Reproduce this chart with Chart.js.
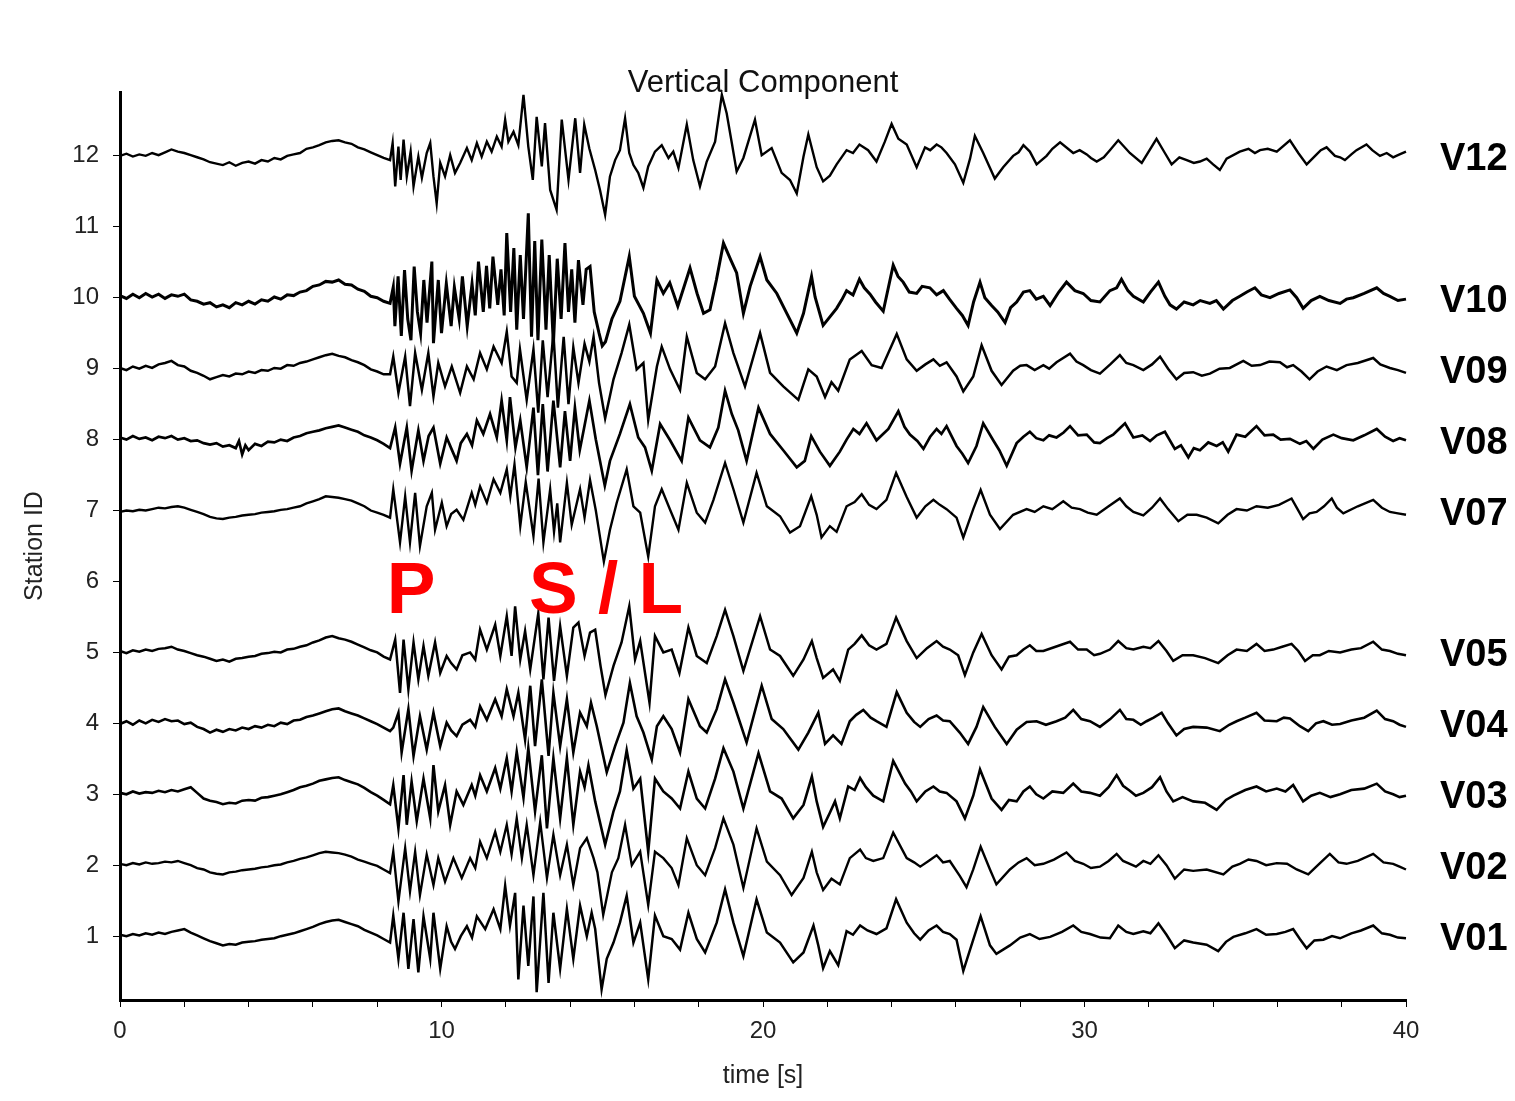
<!DOCTYPE html>
<html>
<head>
<meta charset="utf-8">
<title>Vertical Component</title>
<script src="https://cdn.jsdelivr.net/npm/chart.js@4/dist/chart.umd.min.js"></script>
<style>
  html, body { margin: 0; padding: 0; background: #fff; }
  #wrap { position: relative; width: 1515px; height: 1101px; }
</style>
</head>
<body>
<div id="wrap"><canvas id="c" width="1515" height="1101"></canvas></div>
<script>
// Station rows (y position of each trace baseline) and their names
const STATIONS = [12, 10, 9, 8, 7, 5, 4, 3, 2, 1];
const STATION_NAMES = ['V12', 'V10', 'V09', 'V08', 'V07', 'V05', 'V04', 'V03', 'V02', 'V01'];
// Line weight per trace (the noisier stations read heavier)
const TRACE_WIDTHS = [2.4, 3.0, 2.5, 2.7, 2.4, 2.5, 2.6, 2.6, 2.4, 2.5];

// Axis ticks
const Y_TICKS = [1, 2, 3, 4, 5, 6, 7, 8, 9, 10, 11, 12];
const X_TICKS = [0, 2, 4, 6, 8, 10, 12, 14, 16, 18, 20, 22, 24, 26, 28, 30, 32, 34, 36, 38, 40];
const X_LABELED = [0, 10, 20, 30, 40];

// Phase annotations: arrival time of the label's left edge, drawn in the empty row 6
const PHASES = [
  { text: 'P', t: 8.3 },
  { text: 'S / L', t: 12.72 }
];
const PHASE_ROW = 5.55;

// Traces: flat [time s, amplitude] pairs; amplitude in hundredths of a station spacing
const V12 = [0,0, .2,3, .4,-1, .6,2, .8,0, 1,4, 1.2,1, 1.4,5, 1.6,9, 1.8,6, 2,4, 2.2,1, 2.4,-2, 2.6,-5, 2.8,-9, 3,-11, 3.2,-13, 3.4,-9, 3.6,-14, 3.8,-10, 4,-8, 4.2,-11, 4.4,-6, 4.6,-8, 4.8,-3, 5,-5, 5.2,0, 5.4,2, 5.6,4, 5.8,10, 6,12, 6.2,15, 6.4,19, 6.6,21, 6.8,22, 7,19, 7.2,17, 7.4,12, 7.6,9, 7.8,5, 8,1, 8.2,-3, 8.4,-6,
  8.48,18, 8.56,-43, 8.66,13, 8.73,-34, 8.82,23, 8.92,-29, 9.04,6, 9.13,-43, 9.28,-1, 9.39,-31, 9.54,4, 9.65,18, 9.75,-29, 9.85,-67, 9.96,-10, 10.11,-29, 10.27,1, 10.42,-24, 10.58,-10, 10.79,11, 10.94,-6, 11.1,18, 11.25,-1, 11.41,20, 11.56,6, 11.72,27, 11.87,13, 11.98,51, 12.08,20, 12.24,34, 12.39,15, 12.55,86, 12.7,13, 12.84,-34, 12.96,55, 13.12,-15, 13.22,46, 13.38,-48, 13.58,-76, 13.74,51, 13.95,-34, 14.16,53, 14.31,-24, 14.44,44, 14.6,10, 14.78,-20, 14.93,-48, 15.09,-83, 15.24,-29, 15.4,-6, 15.55,8, 15.71,53, 15.84,4, 15.97,-13, 16.12,-24, 16.28,-45, 16.43,-15, 16.64,6, 16.85,15, 17.06,-3, 17.21,6, 17.37,-17, 17.63,44, 17.83,-6, 18.04,-43, 18.25,-8, 18.51,20, 18.72,86, 18.87,60, 19.03,18, 19.18,-22, 19.39,-3, 19.75,51, 19.96,1, 20.27,11, 20.58,-24, 20.84,-34, 21.05,-53, 21.26,-1, 21.41,30,
  21.67,-16, 21.87,-36, 22.08,-28, 22.29,-12, 22.6,8, 22.8,4, 23,16, 23.27,8, 23.53,-8, 23.79,20, 24,45, 24.21,24, 24.47,16, 24.78,-16, 25.04,12, 25.2,8, 25.4,16, 25.55,12, 25.71,4, 25.97,-12, 26.23,-38, 26.44,-4, 26.59,28, 26.85,4, 27.21,-32, 27.47,-16, 27.78,0, 27.95,5, 28.1,15, 28.3,6, 28.51,-12, 28.82,0, 29,10, 29.24,19, 29.65,4, 29.85,8, 30.07,2, 30.2,-3, 30.38,-8, 30.6,-2, 30.79,8, 31.05,22, 31.41,4, 31.78,-10, 32.24,24, 32.5,4, 32.71,-12, 32.95,-2, 33.18,-6, 33.4,-10, 33.59,-8, 33.8,-4, 34,-12, 34.21,-20, 34.42,-4, 34.83,6, 35.1,10, 35.3,4, 35.46,8, 35.7,10, 35.98,6, 36.39,22, 36.65,4, 36.91,-12, 37.22,2, 37.35,8, 37.53,12, 37.79,0, 37.95,-2, 38.1,-6, 38.3,2, 38.46,8, 38.77,16, 38.95,8, 39.19,0, 39.4,4, 39.6,-2, 39.8,2, 40,6];

const V10 = [0,3, .2,-1, .4,5, .6,0, .8,6, 1,1, 1.2,5, 1.4,-1, 1.6,4, 1.8,2, 2,5, 2.2,-3, 2.4,-5, 2.6,-9, 2.8,-7, 3,-13, 3.2,-10, 3.4,-14, 3.6,-7, 3.8,-10, 4,-5, 4.2,-9, 4.4,-3, 4.6,-5, 4.8,1, 5,-2, 5.2,4, 5.4,3, 5.6,8, 5.8,10, 6,16, 6.2,18, 6.4,23, 6.6,22, 6.8,25, 7,19, 7.2,18, 7.4,12, 7.6,9, 7.8,2, 8,0, 8.2,-5, 8.4,-8,
  8.5,15, 8.55,-40, 8.65,30, 8.75,-54, 8.85,39, 8.95,-30, 9.05,-60, 9.15,44, 9.25,-20, 9.35,-50, 9.45,25, 9.55,-35, 9.7,51, 9.75,-64, 9.9,25, 10,-50, 10.15,20, 10.3,-40, 10.4,15, 10.55,-30, 10.65,30, 10.8,-40, 10.95,20, 11.05,-25, 11.15,51, 11.3,-20, 11.4,45, 11.5,-15, 11.6,58, 11.75,-10, 11.85,40, 11.95,-25, 12.03,91, 12.15,-20, 12.25,70, 12.34,-45, 12.45,60, 12.55,-30, 12.7,119, 12.8,-55, 12.9,80, 13,-60, 13.12,82, 13.25,-45, 13.35,60, 13.48,-66, 13.6,55, 13.72,-30, 13.84,77, 13.95,-20, 14.05,40, 14.15,-35, 14.26,53, 14.4,-10, 14.5,40, 14.62,44, 14.75,-20, 14.9,-50, 15,-68, 15.1,-62, 15.3,-30, 15.55,-5, 15.84,58, 16,2, 16.28,-22, 16.5,-50, 16.7,25, 16.9,6, 17.1,21, 17.35,-12, 17.73,42, 17.95,6, 18.15,-22, 18.35,-17, 18.55,25, 18.77,77, 19,53, 19.18,35, 19.39,-22, 19.6,16, 19.91,58, 20.12,25, 20.43,6, 20.74,-22, 21.05,-50, 21.26,-22, 21.51,30,
  21.62,1, 21.87,-39, 22.08,-27, 22.29,-15, 22.45,-3, 22.6,10, 22.8,4, 23,26, 23.15,14, 23.33,5, 23.5,-6, 23.74,-19, 24.05,46, 24.2,30, 24.36,22, 24.55,8, 24.78,6, 24.95,16, 25.19,14, 25.4,4, 25.61,10, 25.8,-2, 26.02,-15, 26.2,-25, 26.38,-39, 26.55,-6, 26.75,22, 26.9,0, 27.11,-11, 27.3,-20, 27.53,-35, 27.7,-14, 27.89,-6, 28.1,8, 28.3,10, 28.5,-2, 28.72,2, 28.93,-11, 29.2,8, 29.44,22, 29.7,10, 29.96,6, 30.2,-4, 30.48,-6, 30.79,10, 31,14, 31.15,26, 31.35,10, 31.52,2, 31.83,-6, 32.05,8, 32.3,22, 32.5,2, 32.66,-10, 32.86,-16, 33.1,-6, 33.38,-10, 33.6,-4, 33.9,-8, 34.1,-4, 34.32,-16, 34.6,-4, 34.83,2, 35.05,8, 35.3,14, 35.5,4, 35.77,0, 36.05,6, 36.39,11, 36.6,0, 36.8,-15, 37.05,-4, 37.32,2, 37.6,-4, 37.95,-8, 38.15,-2, 38.36,0, 38.7,6, 39.09,14, 39.3,6, 39.5,2, 39.75,-4, 40,-2];

const V09 = [0,1, .2,-2, .4,3, .6,0, .8,4, 1,1, 1.2,6, 1.4,8, 1.6,11, 1.8,5, 2,3, 2.2,-3, 2.4,-6, 2.6,-10, 2.8,-15, 3,-12, 3.2,-9, 3.4,-11, 3.6,-7, 3.8,-8, 4,-4, 4.2,-6, 4.4,-2, 4.6,-3, 4.8,1, 5,0, 5.2,5, 5.4,4, 5.6,8, 5.8,10, 6,13, 6.2,16, 6.4,19, 6.6,21, 6.8,18, 7,16, 7.2,12, 7.4,9, 7.6,5, 7.8,-1, 8,-4, 8.2,-8, 8.4,-8,
  8.5,17, 8.66,-34, 8.87,17, 9.02,-53, 9.18,22, 9.39,-30, 9.59,22, 9.75,-39, 9.9,8, 10.11,-25, 10.32,3, 10.58,-34, 10.79,3, 11,-15, 11.2,22, 11.41,-1, 11.62,31, 11.87,8, 12.03,52, 12.18,-11, 12.34,-20, 12.44,27, 12.65,-44, 12.86,27, 13.01,-62, 13.15,40, 13.3,-40, 13.48,50, 13.62,-55, 13.8,45, 13.95,-50, 14.1,30, 14.26,-20, 14.45,35, 14.6,10, 14.73,45, 14.9,-20, 15.09,-70, 15.35,-15, 15.6,22, 15.84,62, 16.07,-1, 16.28,8, 16.43,-72, 16.7,3, 16.85,31, 17.11,-1, 17.42,-30, 17.63,45, 17.94,-6, 18.2,-15, 18.51,3, 18.82,64, 19.08,22, 19.44,-25, 19.91,50, 20.22,-6, 20.63,-25, 21.1,-44, 21.41,-1,
  21.67,-11, 21.93,-40, 22.13,-19, 22.34,-31, 22.7,13, 23.07,25, 23.38,5, 23.69,1, 24.16,49, 24.47,13, 24.78,-3, 25.05,6, 25.3,13, 25.5,4, 25.71,9, 26.02,-11, 26.23,-32, 26.54,-11, 26.8,33, 27.11,-3, 27.42,-23, 27.78,-3, 28,4, 28.2,5, 28.45,-2, 28.72,5, 28.9,0, 29.13,9, 29.55,21, 29.75,10, 29.96,5, 30.2,-2, 30.48,-7, 30.8,6, 31.1,19, 31.3,8, 31.52,5, 31.83,-2, 32.1,6, 32.35,17, 32.6,0, 32.86,-15, 33.1,-6, 33.38,-5, 33.65,-10, 33.9,-7, 34.2,0, 34.52,1, 34.94,11, 35.2,4, 35.46,5, 35.75,10, 36.08,9, 36.3,2, 36.49,5, 36.75,-4, 37,-15, 37.25,-4, 37.53,3, 37.85,-2, 38.15,5, 38.5,8, 38.98,15, 39.2,6, 39.5,1, 39.75,-2, 40,-6];

const V08 = [0,3, .2,0, .4,5, .6,1, .8,3, 1,-1, 1.2,4, 1.4,2, 1.6,5, 1.8,0, 2,2, 2.2,-2, 2.4,-1, 2.6,-5, 2.8,-7, 3,-5, 3.2,-10, 3.4,-8, 3.6,-12, 3.7,-2, 3.8,-21, 3.9,-8, 4,-15, 4.2,-6, 4.4,-9, 4.6,-3, 4.8,-4, 5,0, 5.2,-2, 5.4,3, 5.6,5, 5.8,9, 6,11, 6.2,13, 6.4,16, 6.6,18, 6.8,20, 7,17, 7.2,14, 7.4,11, 7.6,6, 7.8,3, 8,-1, 8.2,-6, 8.4,-12,
  8.56,17, 8.71,-34, 8.92,17, 9.07,-44, 9.28,13, 9.44,-30, 9.6,5, 9.75,17, 9.96,-34, 10.16,3, 10.3,-12, 10.47,-30, 10.6,-5, 10.79,8, 10.95,-8, 11.1,27, 11.3,8, 11.51,36, 11.72,3, 11.87,55, 12.03,-1, 12.13,60, 12.3,-11, 12.45,27, 12.65,-39, 12.86,45, 13,-50, 13.15,50, 13.3,-45, 13.48,55, 13.69,-39, 13.84,40, 14,-30, 14.15,45, 14.3,-15, 14.45,20, 14.6,55, 14.8,0, 15.08,-65, 15.24,-30, 15.55,8, 15.86,50, 16.12,3, 16.33,-11, 16.54,-44, 16.8,22, 17.11,-1, 17.47,-30, 17.68,31, 18.04,-1, 18.35,-11, 18.61,17, 18.82,69, 19.03,36, 19.23,13, 19.49,-30, 19.86,45, 20.22,8, 20.63,-15, 21.05,-39, 21.3,-30, 21.5,5,
  21.77,-17, 22.08,-37, 22.39,-17, 22.6,0, 22.81,15, 23,8, 23.22,23, 23.53,-1, 23.9,15, 24.21,40, 24.4,18, 24.57,7, 24.8,-2, 24.99,-13, 25.2,4, 25.4,15, 25.55,8, 25.71,19, 26.02,-9, 26.2,-20, 26.38,-33, 26.64,-9, 26.85,23, 27.16,-1, 27.35,-15, 27.58,-37, 27.89,-5, 28.1,4, 28.3,11, 28.5,2, 28.72,-1, 28.9,6, 29.13,3, 29.35,10, 29.55,19, 29.8,6, 30.07,7, 30.3,-4, 30.48,-5, 30.7,2, 30.89,7, 31.05,14, 31.26,23, 31.52,3, 31.8,6, 32.04,-2, 32.25,6, 32.5,11, 32.81,-13, 33,-8, 33.23,-25, 33.4,-12, 33.59,-15, 33.85,-4, 34.11,-9, 34.3,-4, 34.47,-17, 34.73,7, 35,4, 35.35,19, 35.6,6, 35.87,7, 36.1,0, 36.39,1, 36.7,-6, 36.9,-2, 37.12,-13, 37.4,0, 37.74,7, 38,2, 38.36,-1, 38.7,6, 39.09,15, 39.35,4, 39.6,-2, 39.8,2, 40,-1];

const V07 = [0,-2, .2,0, .4,-1, .6,1, .8,0, 1,2, 1.2,4, 1.4,3, 1.6,5, 1.8,6, 2,4, 2.2,1, 2.4,-2, 2.6,-5, 2.8,-9, 3,-11, 3.2,-12, 3.4,-10, 3.6,-9, 3.8,-7, 4,-6, 4.2,-5, 4.4,-3, 4.6,-2, 4.8,-1, 5,1, 5.2,2, 5.4,4, 5.6,6, 5.8,10, 6,13, 6.2,16, 6.4,20, 6.6,19, 6.8,18, 7,16, 7.2,14, 7.4,10, 7.6,6, 7.8,0, 8,-3, 8.2,-6, 8.4,-10,
  8.5,30, 8.71,-45, 8.87,20, 9.02,-45, 9.18,25, 9.33,-50, 9.54,6, 9.7,25, 9.8,-27, 10.01,11, 10.16,-22, 10.3,-5, 10.47,1, 10.68,-13, 10.94,25, 11.05,8, 11.2,34, 11.41,11, 11.62,44, 11.83,25, 12.03,58, 12.14,20, 12.27,65, 12.45,-22, 12.62,40, 12.86,-36, 13.02,45, 13.17,-45, 13.38,30, 13.5,-30, 13.6,10, 13.69,-45, 13.9,39, 14.05,-20, 14.31,30, 14.45,-10, 14.62,43, 14.8,0, 15.05,-72, 15.24,-27, 15.45,11, 15.76,58, 15.97,6, 16.18,-3, 16.43,-65, 16.64,6, 16.85,30, 17.11,1, 17.37,-27, 17.63,39, 17.94,-3, 18.2,-17, 18.46,15, 18.82,67, 19.08,30, 19.39,-17, 19.8,53, 20.12,6, 20.53,-8, 20.84,-31, 21.15,-22, 21.5,20,
  21.67,-6, 21.82,-38, 22.08,-22, 22.29,-30, 22.6,6, 22.85,12, 23.07,23, 23.3,8, 23.53,2, 23.84,15, 24.14,53, 24.47,19, 24.78,-10, 25.05,6, 25.3,15, 25.5,8, 25.71,2, 26.02,-10, 26.23,-38, 26.54,2, 26.77,29, 27.06,-6, 27.37,-26, 27.78,-6, 28.2,2, 28.45,-2, 28.72,6, 29,2, 29.34,13, 29.6,4, 29.86,2, 30.1,-3, 30.38,-6, 30.75,6, 31.1,17, 31.3,6, 31.52,-2, 31.83,-7, 32.1,4, 32.35,17, 32.6,2, 32.92,-15, 33.2,-6, 33.49,-6, 33.8,-10, 34.16,-18, 34.45,-6, 34.73,2, 35.05,0, 35.35,6, 35.7,4, 36.05,8, 36.44,17, 36.6,4, 36.8,-12, 37,-4, 37.22,-2, 37.45,6, 37.69,17, 37.85,4, 38.05,-4, 38.5,6, 38.98,15, 39.25,4, 39.5,-2, 39.75,-4, 40,-6];

const V05 = [0,2, .2,-1, .4,3, .6,1, .8,4, 1,2, 1.2,5, 1.4,6, 1.6,8, 1.8,4, 2,2, 2.2,-1, 2.4,-4, 2.6,-6, 2.8,-9, 3,-12, 3.2,-10, 3.4,-13, 3.6,-9, 3.8,-8, 4,-6, 4.2,-5, 4.4,-2, 4.6,-1, 4.8,1, 5,0, 5.2,4, 5.4,5, 5.6,8, 5.8,10, 6,14, 6.2,17, 6.4,21, 6.6,23, 6.8,20, 7,18, 7.2,15, 7.4,11, 7.6,7, 7.8,3, 8,0, 8.2,-6, 8.4,-10,
  8.56,18, 8.71,-57, 8.82,18, 8.97,-52, 9.13,14, 9.28,-38, 9.44,9, 9.59,-33, 9.8,14, 9.96,-29, 10.16,-5, 10.3,-15, 10.47,-24, 10.65,-4, 10.89,0, 11.05,-10, 11.2,32, 11.41,4, 11.67,39, 11.83,-5, 12.03,51, 12.18,-5, 12.29,65, 12.45,-10, 12.6,30, 12.76,-24, 13.01,55, 13.17,-38, 13.33,49, 13.5,-40, 13.69,37, 13.9,-33, 14.1,35, 14.26,42, 14.45,-5, 14.62,28, 14.78,32, 14.95,-20, 15.1,-60, 15.35,-19, 15.6,14, 15.84,65, 16.02,-10, 16.18,16, 16.47,-71, 16.64,23, 16.9,0, 17.16,4, 17.4,-29, 17.68,35, 17.94,-5, 18.25,-15, 18.56,23, 18.82,60, 19.08,23, 19.39,-26, 19.91,51, 20.22,4, 20.53,-5, 20.94,-33, 21.26,-10, 21.52,16,
  21.67,-8, 21.87,-36, 22.18,-24, 22.39,-40, 22.65,4, 22.85,12, 23.07,24, 23.3,10, 23.53,4, 23.84,12, 24.14,49, 24.47,16, 24.78,-8, 25.1,6, 25.4,16, 25.6,8, 25.81,4, 26.07,-4, 26.28,-32, 26.54,0, 26.8,26, 27.11,-4, 27.42,-24, 27.65,-6, 27.89,-4, 28.1,4, 28.3,10, 28.5,2, 28.72,2, 29.1,8, 29.55,15, 29.8,4, 30.07,4, 30.3,-4, 30.48,-2, 30.79,4, 31.05,16, 31.3,6, 31.52,4, 31.83,8, 32.05,6, 32.3,16, 32.55,2, 32.76,-12, 33.05,-4, 33.38,-4, 33.75,-8, 34.16,-15, 34.45,-4, 34.73,4, 35.05,2, 35.35,12, 35.6,2, 35.87,4, 36.15,8, 36.44,12, 36.65,2, 36.86,-12, 37.1,-4, 37.32,-4, 37.6,2, 37.95,0, 38.3,4, 38.6,6, 38.98,15, 39.25,4, 39.5,2, 39.75,-2, 40,-4];

const V04 = [0,-1, .2,3, .4,-2, .6,4, .8,0, 1,5, 1.2,2, 1.4,6, 1.6,3, 1.8,4, 2,-1, 2.2,1, 2.4,-5, 2.6,-8, 2.8,-13, 3,-9, 3.2,-12, 3.4,-8, 3.6,-10, 3.8,-6, 4,-8, 4.2,-4, 4.4,-6, 4.6,-2, 4.8,-4, 5,1, 5.2,-1, 5.4,4, 5.6,5, 5.8,9, 6,11, 6.2,14, 6.4,17, 6.6,20, 6.8,21, 7,17, 7.2,14, 7.4,11, 7.6,7, 7.8,3, 8,-1, 8.2,-6, 8.4,-11,
  8.5,-6, 8.66,15, 8.76,-41, 8.97,20, 9.13,-46, 9.33,10, 9.54,-37, 9.75,15, 9.96,-32, 10.16,1, 10.3,-10, 10.47,-18, 10.65,-2, 10.89,5, 11.05,-5, 11.2,24, 11.41,5, 11.67,34, 11.87,10, 12.03,48, 12.24,10, 12.39,43, 12.6,-23, 12.76,53, 12.91,-32, 13.12,62, 13.33,-46, 13.48,43, 13.69,-32, 13.9,34, 14.1,-41, 14.31,15, 14.52,-4, 14.65,29, 14.83,-4, 15.14,-69, 15.4,-32, 15.66,1, 15.86,57, 16.07,10, 16.28,-13, 16.54,-51, 16.7,-4, 16.9,10, 17.16,-8, 17.42,-41, 17.68,34, 18.04,-4, 18.25,-13, 18.56,20, 18.82,62, 19.08,29, 19.49,-27, 19.96,53, 20.27,6, 20.63,-8, 21.1,-37, 21.41,-13, 21.72,15,
  21.93,-29, 22.18,-17, 22.44,-29, 22.7,3, 22.9,12, 23.12,19, 23.35,8, 23.53,3, 23.84,-5, 24.16,44, 24.47,15, 24.7,2, 24.89,-5, 25.15,6, 25.4,11, 25.6,4, 25.81,3, 26.12,-13, 26.38,-29, 26.64,-5, 26.85,23, 27.21,-5, 27.58,-29, 27.89,-9, 28.2,2, 28.51,3, 28.8,-2, 29.13,3, 29.4,8, 29.65,19, 29.9,6, 30.17,3, 30.48,-5, 30.8,6, 31.1,19, 31.3,6, 31.52,5, 31.75,-2, 31.93,3, 32.15,8, 32.4,15, 32.6,0, 32.86,-17, 33.1,-8, 33.38,-5, 33.8,-6, 34.21,-11, 34.5,-2, 34.73,3, 35,8, 35.35,15, 35.6,4, 35.98,3, 36.2,8, 36.39,7, 36.7,-4, 36.96,-11, 37.2,0, 37.43,3, 37.7,-2, 37.95,-1, 38.3,4, 38.7,8, 39.09,18, 39.35,6, 39.6,3, 39.8,-2, 40,-5];

const V03 = [0,2, .2,0, .4,4, .6,1, .8,3, 1,2, 1.2,5, 1.4,3, 1.6,6, 1.8,4, 2,7, 2.2,10, 2.4,2, 2.6,-6, 2.8,-9, 3,-11, 3.2,-14, 3.4,-12, 3.6,-13, 3.8,-9, 4,-8, 4.2,-9, 4.4,-5, 4.6,-4, 4.8,-2, 5,0, 5.2,3, 5.4,6, 5.6,10, 5.8,12, 6,15, 6.2,19, 6.4,21, 6.6,23, 6.8,24, 7,20, 7.2,17, 7.4,14, 7.6,9, 7.8,3, 8,-2, 8.2,-8, 8.4,-14,
  8.5,13, 8.66,-48, 8.82,27, 8.92,-43, 9.07,18, 9.23,-38, 9.44,22, 9.65,-34, 9.75,41, 9.9,-24, 10.11,13, 10.27,-43, 10.47,4, 10.68,-15, 10.94,13, 11.05,-2, 11.2,27, 11.41,4, 11.67,37, 11.83,8, 12.03,51, 12.18,4, 12.34,60, 12.55,-5, 12.7,65, 12.91,-24, 13.12,55, 13.28,-48, 13.48,51, 13.69,-34, 13.9,51, 14.1,-43, 14.31,32, 14.45,10, 14.57,41, 14.78,-10, 15.09,-71, 15.35,-24, 15.55,4, 15.76,62, 15.97,8, 16.18,22, 16.43,-81, 16.64,22, 16.9,4, 17.16,-6, 17.42,-20, 17.68,32, 17.94,-6, 18.2,-20, 18.51,22, 18.77,65, 19.08,32, 19.39,-20, 19.86,58, 20.22,4, 20.58,-6, 20.94,-34, 21.26,-15, 21.52,25,
  21.67,-10, 21.87,-46, 22.08,-26, 22.24,-10, 22.39,-34, 22.65,11, 22.85,6, 23.02,23, 23.2,10, 23.43,-2, 23.74,-10, 24.05,47, 24.42,15, 24.6,4, 24.78,-10, 25.05,4, 25.3,11, 25.5,4, 25.71,2, 26.02,-10, 26.28,-34, 26.54,-2, 26.75,35, 27.11,-6, 27.42,-22, 27.65,-8, 27.89,-10, 28.1,4, 28.3,11, 28.5,0, 28.72,-6, 29,4, 29.34,2, 29.65,15, 29.9,4, 30.17,2, 30.48,-2, 30.75,10, 31,27, 31.2,12, 31.41,5, 31.6,-2, 31.83,2, 32.1,10, 32.35,24, 32.55,4, 32.76,-10, 33.05,-4, 33.38,-10, 33.75,-12, 34.11,-22, 34.4,-8, 34.63,-2, 35,6, 35.35,11, 35.65,4, 35.98,8, 36.25,4, 36.49,13, 36.8,-10, 37.05,-2, 37.32,2, 37.65,-4, 37.95,0, 38.3,6, 38.7,8, 39.09,15, 39.35,4, 39.6,0, 39.8,-4, 40,-2];

const V02 = [0,2, .2,0, .4,3, .6,1, .8,4, 1,2, 1.2,3, 1.4,5, 1.6,4, 1.8,6, 2,3, 2.2,0, 2.4,-4, 2.6,-6, 2.8,-10, 3,-12, 3.2,-13, 3.4,-10, 3.6,-9, 3.8,-7, 4,-6, 4.2,-5, 4.4,-3, 4.6,-2, 4.8,0, 5,1, 5.2,4, 5.4,6, 5.6,9, 5.8,11, 6,14, 6.2,17, 6.4,19, 6.6,18, 6.8,17, 7,15, 7.2,12, 7.4,8, 7.6,5, 7.8,2, 8,-1, 8.2,-6, 8.4,-11,
  8.5,19, 8.66,-51, 8.87,24, 9.02,-37, 9.18,19, 9.33,-42, 9.54,15, 9.75,-28, 9.9,10, 10.11,-23, 10.37,10, 10.63,-18, 10.89,10, 11.05,-4, 11.2,33, 11.41,10, 11.67,47, 11.83,19, 12.03,57, 12.18,15, 12.34,66, 12.5,10, 12.65,57, 12.86,-14, 13.07,61, 13.28,-18, 13.48,43, 13.69,-14, 13.9,29, 14.1,-28, 14.31,24, 14.52,38, 14.73,10, 14.85,-10, 15.03,-70, 15.3,-10, 15.5,10, 15.71,57, 15.92,0, 16.18,19, 16.43,-56, 16.64,19, 16.9,10, 17.16,-4, 17.37,-28, 17.63,38, 17.94,0, 18.2,-14, 18.51,24, 18.77,66, 19.08,29, 19.39,-32, 19.8,52, 20.12,5, 20.53,-14, 20.89,-42, 21.26,-18, 21.52,19,
  21.67,-10, 21.87,-35, 22.13,-19, 22.39,-27, 22.7,10, 23.02,22, 23.2,10, 23.43,6, 23.74,10, 24.05,46, 24.47,10, 24.7,4, 24.89,-2, 25.15,6, 25.4,14, 25.6,4, 25.81,6, 26.12,-15, 26.33,-31, 26.54,-6, 26.77,26, 27.06,-6, 27.26,-27, 27.68,-6, 27.95,4, 28.2,10, 28.45,0, 28.72,2, 29.05,8, 29.44,18, 29.7,6, 29.96,2, 30.2,-4, 30.48,-2, 30.75,6, 31,16, 31.2,6, 31.41,2, 31.6,-2, 31.83,6, 32.05,2, 32.3,14, 32.55,0, 32.81,-19, 33.1,-6, 33.38,-8, 33.8,-6, 34.32,-13, 34.6,-2, 34.83,2, 35.1,8, 35.35,6, 35.65,0, 35.98,3, 36.3,2, 36.6,-6, 36.96,-13, 37.3,2, 37.63,16, 37.9,4, 38.15,2, 38.5,6, 38.98,16, 39.3,4, 39.6,2, 39.8,-2, 40,-6];

const V01 = [0,2, .2,0, .4,3, .6,1, .8,4, 1,2, 1.2,5, 1.4,3, 1.6,6, 1.8,8, 2,10, 2.2,5, 2.4,1, 2.6,-3, 2.8,-7, 3,-10, 3.2,-13, 3.4,-11, 3.6,-12, 3.8,-9, 4,-8, 4.2,-7, 4.4,-5, 4.6,-4, 4.8,-3, 5,0, 5.2,2, 5.4,4, 5.6,7, 5.8,10, 6,13, 6.2,17, 6.4,20, 6.6,22, 6.8,23, 7,20, 7.2,17, 7.4,14, 7.6,9, 7.8,5, 8,1, 8.2,-4, 8.4,-9,
  8.5,29, 8.66,-32, 8.82,33, 8.97,-46, 9.13,24, 9.28,-51, 9.44,28, 9.65,-32, 9.75,33, 9.96,-46, 10.16,14, 10.3,-8, 10.42,-18, 10.6,0, 10.79,14, 10.95,-2, 11.1,28, 11.36,10, 11.62,38, 11.83,10, 11.98,71, 12.13,15, 12.29,61, 12.39,-61, 12.55,43, 12.7,-42, 12.86,56, 12.96,-79, 13.17,61, 13.33,-66, 13.48,33, 13.69,-46, 13.9,38, 14.1,-32, 14.31,43, 14.52,0, 14.67,33, 14.78,10, 14.98,-75, 15.14,-32, 15.35,-9, 15.55,19, 15.76,57, 15.97,-9, 16.18,19, 16.43,-61, 16.64,29, 16.9,0, 17.16,-4, 17.42,-19, 17.68,33, 17.94,-4, 18.2,-23, 18.56,19, 18.82,66, 19.08,19, 19.39,-28, 19.8,52, 20.12,5, 20.53,-9, 20.94,-37, 21.26,-23, 21.57,15,
  21.72,-13, 21.87,-45, 22.08,-21, 22.34,-41, 22.6,7, 22.8,2, 23.02,15, 23.25,8, 23.53,3, 23.84,11, 24.14,52, 24.47,19, 24.7,4, 24.89,-5, 25.15,8, 25.4,15, 25.6,6, 25.81,3, 26.02,-5, 26.23,-49, 26.54,-5, 26.77,28, 27.06,-13, 27.26,-25, 27.68,-13, 28,-2, 28.3,3, 28.6,-4, 28.93,-1, 29.3,6, 29.65,15, 29.9,6, 30.17,3, 30.5,-2, 30.79,-3, 31.05,15, 31.3,6, 31.52,3, 31.83,7, 32.05,4, 32.3,18, 32.55,2, 32.81,-17, 33.1,-6, 33.38,-9, 33.8,-12, 34.16,-21, 34.4,-8, 34.63,-1, 35,4, 35.35,10, 35.65,2, 35.98,3, 36.25,6, 36.49,10, 36.7,-4, 36.91,-17, 37.15,-6, 37.43,-5, 37.7,0, 37.95,-3, 38.3,4, 38.6,8, 38.98,15, 39.25,4, 39.5,2, 39.75,-2, 40,-3];

const TRACES = [V12, V10, V09, V08, V07, V05, V04, V03, V02, V01];

const FONT = '"Liberation Sans", Arial, Helvetica, sans-serif';

// Offset each trace onto its station row
function tracePoints(station, pairs) {
  const pts = [];
  for (let i = 0; i < pairs.length; i += 2) {
    pts.push({ x: pairs[i], y: station + pairs[i + 1] / 100 });
  }
  return pts;
}

const datasets = TRACES.map((pairs, i) => ({
  label: STATION_NAMES[i],
  data: tracePoints(STATIONS[i], pairs),
  showLine: true,
  borderColor: '#000',
  borderWidth: TRACE_WIDTHS[i],
  borderJoinStyle: 'miter',
  pointRadius: 0,
  pointHoverRadius: 0,
  tension: 0,
  clip: false
}));

// Title, station names on the right, and phase markers
const annotations = {
  id: 'annotations',
  afterDatasetsDraw(chart) {
    const { ctx, chartArea, scales: { x, y } } = chart;
    ctx.save();

    ctx.fillStyle = '#111';
    ctx.font = '31px ' + FONT;
    ctx.textAlign = 'center';
    ctx.textBaseline = 'alphabetic';
    ctx.fillText('Vertical Component', (chartArea.left + chartArea.right) / 2, 92);

    ctx.fillStyle = '#000';
    ctx.font = 'bold 38px ' + FONT;
    ctx.textAlign = 'left';
    STATIONS.forEach((s, i) => {
      ctx.fillText(STATION_NAMES[i], chartArea.right + 34, y.getPixelForValue(s) + 14);
    });

    ctx.fillStyle = '#ff0000';
    ctx.font = 'bold 73px ' + FONT;
    PHASES.forEach(p => {
      ctx.fillText(p.text, x.getPixelForValue(p.t), y.getPixelForValue(PHASE_ROW));
    });
    ctx.restore();
  }
};

new Chart(document.getElementById('c'), {
  type: 'scatter',
  data: { datasets },
  plugins: [annotations],
  options: {
    responsive: false,
    animation: false,
    devicePixelRatio: 1,
    events: [],
    layout: { padding: { top: 92, right: 109, left: 0, bottom: 0 } },
    plugins: { legend: { display: false }, tooltip: { enabled: false }, title: { display: false } },
    scales: {
      x: {
        type: 'linear',
        min: 0,
        max: 40,
        afterBuildTicks: s => { s.ticks = X_TICKS.map(v => ({ value: v })); },
        afterFit: s => { s.height = 101; },
        ticks: {
          autoSkip: false,
          maxRotation: 0,
          padding: 10,
          color: '#222',
          font: { family: FONT, size: 24 },
          callback: v => (X_LABELED.includes(v) ? String(v) : '')
        },
        grid: { drawOnChartArea: false, drawTicks: true, tickLength: 7, color: '#000', tickWidth: 1 },
        border: { display: true, color: '#000', width: 3 },
        title: { display: true, text: 'time [s]', color: '#222', font: { family: FONT, size: 25 }, padding: { top: 0, bottom: 10 } }
      },
      y: {
        type: 'linear',
        min: 0.1,
        max: 12.9,
        afterBuildTicks: s => { s.ticks = Y_TICKS.map(v => ({ value: v })); },
        afterFit: s => { s.width = 120; },
        ticks: {
          autoSkip: false,
          padding: 14,
          color: '#222',
          font: { family: FONT, size: 24 }
        },
        grid: { drawOnChartArea: false, drawTicks: true, tickLength: 7, color: '#000', tickWidth: 1 },
        border: { display: true, color: '#000', width: 3 },
        title: { display: true, text: 'Station ID', color: '#222', font: { family: FONT, size: 25 }, padding: { top: 20, bottom: 0 } }
      }
    }
  }
});
</script>
</body>
</html>
